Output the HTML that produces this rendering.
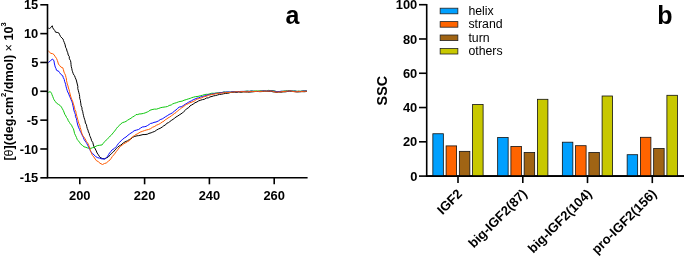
<!DOCTYPE html>
<html><head><meta charset="utf-8"><title>chart</title>
<style>
html,body{margin:0;padding:0;background:#fff;}
svg{display:block;will-change:transform;}
text{font-family:"Liberation Sans",sans-serif;fill:#000;}
.t{font-size:12.9px;font-weight:bold;}
.big{font-size:25px;font-weight:bold;}
.yl{font-size:12.6px;font-weight:bold;}
.ssc{font-size:14.3px;font-weight:bold;}
.lg{font-size:12.3px;}
</style></head>
<body>
<svg width="685" height="256" viewBox="0 0 685 256">
<rect width="685" height="256" fill="#fff"/>
<polyline points="48.30,28.10 49.50,28.50 50.80,27.60 52.25,25.75 52.66,27.58 53.50,29.00 54.71,30.48 55.60,32.25 57.20,32.40 58.75,32.90 59.67,34.72 60.60,36.60 61.94,38.02 63.10,39.10 63.46,40.52 64.30,42.50 65.15,44.83 65.60,47.25 66.47,48.78 67.00,51.05 67.75,52.75 68.22,55.02 69.25,56.47 69.36,58.77 70.53,60.68 70.90,62.75 71.03,64.58 71.22,66.33 71.76,68.37 72.10,70.25 72.57,71.76 73.20,73.56 74.00,75.25 74.60,75.75 75.19,77.55 76.24,79.95 76.75,82.00 77.25,84.00 77.87,86.59 77.76,88.46 78.40,90.75 78.89,92.76 79.38,94.46 79.67,96.49 79.71,98.32 80.42,100.35 80.55,102.07 80.90,103.90 81.06,105.69 81.96,107.73 82.03,109.76 82.79,111.78 83.04,113.58 83.56,115.72 84.00,117.50 84.56,119.24 85.09,120.82 85.38,123.02 86.49,124.76 86.69,126.30 87.30,128.59 88.01,130.12 88.40,131.90 89.23,133.36 89.64,135.40 90.25,136.75 91.05,138.73 91.61,140.78 92.77,142.45 93.42,144.94 94.00,146.75 95.27,148.98 96.25,150.93 97.10,153.00 98.39,154.83 99.60,156.75 100.91,157.90 102.75,158.60 104.50,158.90 106.17,157.97 107.75,157.40 109.00,156.14 110.25,154.90 111.41,153.54 112.77,152.44 114.00,151.10 115.32,149.82 116.22,148.44 117.56,147.40 119.00,146.10 120.68,145.16 122.11,144.06 123.40,142.75 126.00,141.40 127.52,140.77 129.44,139.48 131.00,138.90 132.59,137.36 134.75,136.40 136.99,135.82 138.68,135.61 141.00,135.10 142.99,134.56 144.96,134.55 147.25,134.25 148.93,133.40 151.13,132.80 152.77,132.10 154.75,131.40 156.34,130.23 158.45,129.01 160.14,128.34 162.25,127.00 163.82,125.73 165.44,124.99 166.65,123.41 168.50,122.60 169.79,121.61 171.30,120.48 173.11,119.27 174.33,118.41 176.00,117.00 177.85,115.98 179.17,115.02 181.00,113.90 182.19,113.00 183.50,112.00 185.02,110.55 186.49,108.83 188.66,107.65 190.00,105.90 191.55,105.07 193.22,104.06 195.00,102.75 197.02,101.91 198.60,100.88 200.85,100.11 202.50,99.60 204.57,99.20 206.29,98.05 208.35,97.86 210.00,96.90 212.00,96.43 213.68,95.86 215.45,95.58 217.50,95.00 219.48,94.42 221.31,94.30 223.45,93.80 225.60,93.40 227.72,93.34 230.29,92.54 232.10,92.43 234.50,92.25 236.89,92.36 238.60,91.96 240.90,92.27 243.16,91.92 245.00,91.95 247.29,92.01 249.12,92.14 251.03,91.94 253.25,91.75 255.19,91.50 257.87,91.48 259.97,91.66 262.00,91.55 264.39,91.40 266.28,91.27 268.78,91.39 270.75,91.25 273.11,91.85 274.70,92.01 277.00,92.35 278.76,91.91 280.74,92.24 283.00,91.85 285.34,91.85 287.24,91.52 289.50,91.25 291.54,91.35 293.29,91.43 294.87,91.64 297.00,91.95 298.90,91.89 300.59,91.72 302.00,91.65 304.32,91.72 306.90,91.45" fill="none" stroke="#000" stroke-width="1"/>
<polyline points="48.30,92.40 50.25,91.60 51.50,93.25 51.97,94.68 52.70,96.38 53.40,98.25 54.06,99.77 55.25,101.40 56.50,103.10 58.63,104.53 60.25,105.60 61.46,107.10 62.37,108.80 63.40,110.60 63.98,112.09 64.78,114.31 65.92,115.96 66.50,117.50 67.62,118.88 68.26,120.70 69.45,122.40 70.25,123.75 71.53,125.17 72.41,127.19 73.40,128.75 74.00,130.98 74.60,133.60 75.42,135.24 76.53,137.59 77.10,139.25 78.18,140.58 79.45,142.19 80.25,143.60 82.35,145.38 84.00,146.75 85.88,147.32 87.75,148.00 89.38,148.16 90.90,148.40 92.25,147.78 94.00,147.40 96.06,146.18 97.75,145.50 99.65,145.28 102.10,144.90 103.22,143.35 104.60,141.75 106.16,140.08 107.75,138.60 109.30,137.18 110.20,135.95 111.50,134.90 113.13,132.87 114.60,131.10 115.56,129.85 116.59,128.34 117.75,126.90 119.66,125.19 120.82,123.80 122.75,122.50 124.53,122.02 126.00,121.40 127.51,120.25 129.14,119.28 131.00,118.25 132.39,117.12 134.57,116.02 136.00,114.50 137.81,114.58 139.04,113.97 141.00,113.90 143.36,113.43 145.11,112.90 147.25,112.00 148.70,111.32 150.00,110.25 152.06,109.60 154.34,109.11 156.49,109.14 158.75,108.40 160.84,107.63 162.85,107.25 165.48,106.89 167.50,106.50 169.12,105.51 171.29,104.95 172.57,103.99 174.23,103.30 176.25,102.75 178.36,101.91 179.97,101.48 182.10,101.16 184.02,100.25 186.25,99.60 188.29,98.92 190.29,98.34 191.72,97.67 193.75,97.10 195.66,96.59 197.97,96.41 200.51,95.71 202.50,95.25 204.09,94.73 206.10,94.32 207.96,94.35 210.00,93.75 211.79,93.23 214.26,93.29 216.29,92.94 218.24,92.84 220.00,92.50 222.04,92.51 223.73,91.99 225.60,92.10 227.65,92.20 230.29,92.10 232.18,91.82 234.50,91.60 236.78,91.63 238.89,91.50 240.89,91.53 242.76,91.61 245.00,91.30 247.34,90.99 249.41,91.48 251.29,90.88 253.25,91.10 255.68,90.83 257.91,91.10 259.55,90.75 262.00,90.90 264.27,90.87 266.52,91.01 268.39,90.38 270.75,90.60 273.09,90.67 275.14,91.10 277.00,91.70 279.19,91.70 281.23,91.40 283.00,91.20 285.39,90.82 287.44,90.70 289.50,90.60 291.61,90.94 293.23,90.97 294.84,90.85 297.00,91.30 298.72,91.19 300.55,91.16 302.00,91.00 304.23,90.82 306.90,90.80" fill="none" stroke="#10c810" stroke-width="1"/>
<polyline points="48.30,62.75 50.25,60.90 52.50,59.00 54.00,60.90 54.26,62.99 54.76,65.10 55.25,67.10 55.95,68.41 56.50,70.25 59.00,71.50 59.60,72.60 60.88,74.38 62.75,75.75 63.22,77.47 64.28,79.50 64.60,81.40 65.28,83.10 65.63,84.62 66.11,86.76 66.50,88.25 67.14,90.27 67.75,92.00 68.78,93.94 69.60,96.40 70.47,98.07 70.91,99.35 71.75,101.25 72.44,103.11 72.83,105.23 73.30,107.13 73.59,108.93 74.09,110.89 74.60,112.50 75.35,114.34 75.43,116.50 76.45,118.71 76.78,120.71 77.23,122.85 77.75,125.00 78.49,127.13 79.47,129.41 80.25,131.25 80.90,132.40 81.78,134.37 82.66,136.12 83.33,137.34 84.00,139.25 85.15,141.09 86.12,142.42 86.94,143.76 87.75,145.50 89.00,147.63 89.72,149.40 90.90,151.75 92.66,153.62 94.00,154.90 95.63,156.51 97.75,157.75 99.57,158.07 101.50,158.80 103.25,158.96 105.25,158.80 106.72,157.18 107.75,156.10 108.74,154.28 109.60,153.00 110.98,151.35 112.10,149.90 114.23,148.61 115.90,146.75 117.14,145.60 118.25,143.60 119.60,142.40 121.23,140.54 122.75,139.25 124.19,138.07 126.00,137.00 127.94,135.24 129.75,133.90 130.93,133.07 132.54,132.08 134.10,130.75 136.54,130.05 138.50,129.50 140.35,128.26 142.25,127.00 144.21,126.76 146.00,126.40 147.50,125.51 149.20,124.47 150.40,123.50 152.23,123.13 153.98,122.38 156.00,122.00 158.37,120.98 160.20,119.64 162.25,118.90 163.87,117.90 165.30,116.87 167.25,115.75 169.08,114.49 170.83,113.73 172.50,112.75 174.27,111.21 175.96,109.99 177.50,108.40 179.30,107.09 181.77,106.58 183.75,105.25 185.16,104.29 186.93,103.27 188.36,102.33 190.00,101.50 191.59,100.72 193.21,99.76 195.00,99.00 197.04,98.09 198.79,97.89 200.51,96.96 202.50,96.50 204.43,95.89 205.81,95.56 207.87,94.91 209.39,94.60 211.25,94.25 213.64,93.84 215.84,93.30 217.71,93.22 220.00,92.75 222.10,92.54 223.57,92.16 225.60,92.20 227.84,91.90 230.23,92.18 232.09,91.73 234.50,91.75 236.78,91.78 238.88,91.54 240.58,91.45 243.08,91.37 245.00,91.45 246.97,91.35 249.08,91.30 251.44,91.09 253.25,91.25 255.14,91.47 257.85,91.44 259.77,91.37 262.00,91.05 264.44,90.81 266.52,91.10 268.66,90.84 270.75,90.75 272.71,91.02 274.75,91.22 277.00,91.85 279.05,91.56 281.19,91.24 283.00,91.35 285.41,91.27 287.59,91.19 289.50,90.75 291.61,90.97 292.96,91.25 294.93,91.15 297.00,91.45 298.76,91.36 300.28,91.51 302.00,91.15 304.52,90.95 306.90,90.95" fill="none" stroke="#0a0aff" stroke-width="1"/>
<polyline points="48.30,50.90 49.87,52.42 50.90,53.40 52.40,53.60 54.00,54.60 54.98,56.25 56.50,58.40 57.33,60.41 57.87,62.02 58.40,64.00 59.71,65.61 60.90,67.10 62.75,67.75 63.42,69.72 64.00,72.10 64.71,73.61 65.50,75.25 65.97,77.38 66.44,78.94 66.50,80.75 66.97,82.36 67.22,83.97 67.98,85.89 68.43,87.99 69.00,89.50 69.49,91.41 69.79,92.96 70.32,94.91 70.90,97.00 71.53,99.02 72.25,100.26 73.01,102.35 73.40,103.90 74.06,105.99 74.59,107.77 74.86,109.74 75.74,111.10 76.14,113.28 76.50,115.00 77.07,117.05 77.68,119.32 78.28,121.29 78.79,123.35 79.71,125.13 80.10,127.44 80.79,129.21 81.25,131.25 81.83,133.27 82.75,135.50 83.81,136.86 84.87,138.49 85.81,140.07 86.50,141.75 87.72,143.12 88.40,144.25 89.03,146.14 89.74,148.05 90.16,149.70 90.90,151.75 91.71,153.89 92.50,155.50 93.82,156.91 95.19,158.97 96.25,160.50 98.37,161.69 100.00,163.25 102.50,164.50 104.52,163.49 106.25,163.00 108.22,161.31 110.00,159.90 111.09,158.46 112.26,156.58 113.75,154.90 115.27,153.02 116.20,151.68 117.64,149.86 119.00,148.00 120.39,146.45 122.14,145.17 124.00,143.60 125.62,142.84 127.45,141.67 129.60,140.50 131.00,138.25 132.38,136.85 134.52,135.54 136.00,134.50 137.89,133.58 140.10,132.16 142.25,131.40 144.63,130.56 146.14,130.04 148.50,129.50 150.65,128.61 152.43,127.34 154.75,126.40 156.34,125.27 158.66,124.34 160.62,123.25 162.25,122.00 163.97,121.12 165.23,119.84 166.85,118.89 168.01,117.97 169.75,117.00 171.54,115.68 172.93,114.74 174.45,113.49 176.00,112.60 177.50,110.90 179.34,109.66 180.69,108.65 181.90,107.63 183.75,106.50 185.10,105.30 186.60,104.42 188.20,103.77 190.00,102.75 192.09,101.99 194.43,100.95 196.25,99.60 197.84,98.95 199.60,98.41 201.57,97.92 203.38,96.97 205.00,96.50 206.95,96.02 208.70,95.22 210.95,94.77 213.13,94.34 215.00,94.00 216.88,93.51 219.08,93.23 221.37,93.08 223.37,92.89 225.60,92.50 227.65,92.62 230.33,92.39 232.24,92.13 234.50,92.00 236.65,91.67 238.65,91.90 240.61,91.58 243.08,91.68 245.00,91.70 247.07,91.90 249.19,91.47 251.48,91.47 253.25,91.50 255.15,91.56 257.39,91.28 260.02,91.45 262.00,91.30 263.90,91.20 266.32,91.14 268.39,91.13 270.75,91.00 272.58,91.24 274.84,91.99 277.00,92.10 278.75,92.09 280.82,91.81 283.00,91.60 285.10,91.38 287.49,91.14 289.50,91.00 291.15,90.95 293.00,91.56 295.21,91.80 297.00,91.70 298.78,91.31 300.43,91.67 302.00,91.40 304.58,91.30 306.90,91.20" fill="none" stroke="#ff5a00" stroke-width="1"/>
<path d="M47.5 3.9800000000000013 V177.8 H307.6" fill="none" stroke="#000" stroke-width="1.6" stroke-linejoin="miter"/>
<line x1="40.3" x2="47.5" y1="4.78" y2="4.78" stroke="#000" stroke-width="1.6"/>
<text x="38.3" y="9.33" text-anchor="end" class="t">15</text>
<line x1="40.3" x2="47.5" y1="33.62" y2="33.62" stroke="#000" stroke-width="1.6"/>
<text x="38.3" y="38.17" text-anchor="end" class="t">10</text>
<line x1="40.3" x2="47.5" y1="62.46" y2="62.46" stroke="#000" stroke-width="1.6"/>
<text x="38.3" y="67.01" text-anchor="end" class="t">5</text>
<line x1="40.3" x2="47.5" y1="91.30" y2="91.30" stroke="#000" stroke-width="1.6"/>
<text x="38.3" y="95.85" text-anchor="end" class="t">0</text>
<line x1="40.3" x2="47.5" y1="120.14" y2="120.14" stroke="#000" stroke-width="1.6"/>
<text x="38.3" y="124.69" text-anchor="end" class="t">-5</text>
<line x1="40.3" x2="47.5" y1="148.98" y2="148.98" stroke="#000" stroke-width="1.6"/>
<text x="38.3" y="153.53" text-anchor="end" class="t">-10</text>
<line x1="40.3" x2="47.5" y1="177.82" y2="177.82" stroke="#000" stroke-width="1.6"/>
<text x="38.3" y="182.37" text-anchor="end" class="t">-15</text>
<line x1="79.80" x2="79.80" y1="177.8" y2="184.3" stroke="#000" stroke-width="1.6"/>
<text x="79.80" y="200.3" text-anchor="middle" class="t">200</text>
<line x1="144.60" x2="144.60" y1="177.8" y2="184.3" stroke="#000" stroke-width="1.6"/>
<text x="144.60" y="200.3" text-anchor="middle" class="t">220</text>
<line x1="209.40" x2="209.40" y1="177.8" y2="184.3" stroke="#000" stroke-width="1.6"/>
<text x="209.40" y="200.3" text-anchor="middle" class="t">240</text>
<line x1="274.20" x2="274.20" y1="177.8" y2="184.3" stroke="#000" stroke-width="1.6"/>
<text x="274.20" y="200.3" text-anchor="middle" class="t">260</text>
<text x="285.6" y="24.2" class="big">a</text>
<text x="657.2" y="24.2" class="big">b</text>
<text transform="translate(12.9,160.6) rotate(-90)" class="yl">[<tspan font-weight="normal">θ</tspan>](deg.cm<tspan dy="-6.5" font-size="7.6">2</tspan><tspan dy="6.5">/dmol) </tspan><tspan font-weight="normal">×</tspan> 10<tspan dy="-6.5" font-size="7.6">3</tspan></text>
<path d="M426.7 3.899999999999989 V176.1 H684" fill="none" stroke="#000" stroke-width="1.6"/>
<line x1="419" x2="426.7" y1="176.10" y2="176.10" stroke="#000" stroke-width="1.6"/>
<text x="417.3" y="180.65" text-anchor="end" class="t">0</text>
<line x1="419" x2="426.7" y1="141.82" y2="141.82" stroke="#000" stroke-width="1.6"/>
<text x="417.3" y="146.37" text-anchor="end" class="t">20</text>
<line x1="419" x2="426.7" y1="107.54" y2="107.54" stroke="#000" stroke-width="1.6"/>
<text x="417.3" y="112.09" text-anchor="end" class="t">40</text>
<line x1="419" x2="426.7" y1="73.26" y2="73.26" stroke="#000" stroke-width="1.6"/>
<text x="417.3" y="77.81" text-anchor="end" class="t">60</text>
<line x1="419" x2="426.7" y1="38.98" y2="38.98" stroke="#000" stroke-width="1.6"/>
<text x="417.3" y="43.53" text-anchor="end" class="t">80</text>
<line x1="419" x2="426.7" y1="4.70" y2="4.70" stroke="#000" stroke-width="1.6"/>
<text x="417.3" y="9.25" text-anchor="end" class="t">100</text>
<text transform="translate(387.3,90.7) rotate(-90) scale(1,1.08)" text-anchor="middle" class="ssc">SSC</text>
<rect x="432.85" y="133.75" width="10.5" height="42.35" fill="#00a0ff" stroke="#111" stroke-width="0.8"/>
<rect x="446.10" y="145.90" width="10.5" height="30.20" fill="#ff6400" stroke="#111" stroke-width="0.8"/>
<rect x="459.35" y="151.35" width="10.5" height="24.75" fill="#a06414" stroke="#111" stroke-width="0.8"/>
<rect x="472.60" y="104.54" width="10.5" height="71.56" fill="#c8c800" stroke="#111" stroke-width="0.8"/>
<line x1="458.00" x2="458.00" y1="176.1" y2="183.1" stroke="#000" stroke-width="1.6"/>
<text transform="translate(463.00,194.6) rotate(-45)" text-anchor="end" class="t" style="font-size:13.1px">IGF2</text>
<rect x="497.65" y="137.50" width="10.5" height="38.60" fill="#00a0ff" stroke="#111" stroke-width="0.8"/>
<rect x="510.90" y="146.50" width="10.5" height="29.60" fill="#ff6400" stroke="#111" stroke-width="0.8"/>
<rect x="524.15" y="152.50" width="10.5" height="23.60" fill="#a06414" stroke="#111" stroke-width="0.8"/>
<rect x="537.40" y="99.30" width="10.5" height="76.80" fill="#c8c800" stroke="#111" stroke-width="0.8"/>
<line x1="522.80" x2="522.80" y1="176.1" y2="183.1" stroke="#000" stroke-width="1.6"/>
<text transform="translate(527.80,194.6) rotate(-45)" text-anchor="end" class="t" style="font-size:13.1px">big-IGF2(87)</text>
<rect x="562.35" y="142.20" width="10.5" height="33.90" fill="#00a0ff" stroke="#111" stroke-width="0.8"/>
<rect x="575.60" y="145.70" width="10.5" height="30.40" fill="#ff6400" stroke="#111" stroke-width="0.8"/>
<rect x="588.85" y="152.50" width="10.5" height="23.60" fill="#a06414" stroke="#111" stroke-width="0.8"/>
<rect x="602.10" y="96.00" width="10.5" height="80.10" fill="#c8c800" stroke="#111" stroke-width="0.8"/>
<line x1="587.50" x2="587.50" y1="176.1" y2="183.1" stroke="#000" stroke-width="1.6"/>
<text transform="translate(592.50,194.6) rotate(-45)" text-anchor="end" class="t" style="font-size:13.1px">big-IGF2(104)</text>
<rect x="627.15" y="154.70" width="10.5" height="21.40" fill="#00a0ff" stroke="#111" stroke-width="0.8"/>
<rect x="640.40" y="137.30" width="10.5" height="38.80" fill="#ff6400" stroke="#111" stroke-width="0.8"/>
<rect x="653.65" y="148.50" width="10.5" height="27.60" fill="#a06414" stroke="#111" stroke-width="0.8"/>
<rect x="666.90" y="95.30" width="10.5" height="80.80" fill="#c8c800" stroke="#111" stroke-width="0.8"/>
<line x1="652.30" x2="652.30" y1="176.1" y2="183.1" stroke="#000" stroke-width="1.6"/>
<text transform="translate(657.30,194.6) rotate(-45)" text-anchor="end" class="t" style="font-size:13.1px">pro-IGF2(156)</text>
<line x1="425.9" x2="684" y1="176.1" y2="176.1" stroke="#000" stroke-width="1.6"/>
<rect x="440.15" y="8.20" width="17.7" height="5.6" fill="#00a0ff" stroke="#222" stroke-width="0.8"/>
<text x="468.4" y="15.00" class="lg">helix</text>
<rect x="440.15" y="21.60" width="17.7" height="5.6" fill="#ff6400" stroke="#222" stroke-width="0.8"/>
<text x="468.4" y="28.40" class="lg">strand</text>
<rect x="440.15" y="35.00" width="17.7" height="5.6" fill="#a06414" stroke="#222" stroke-width="0.8"/>
<text x="468.4" y="41.80" class="lg">turn</text>
<rect x="440.15" y="48.40" width="17.7" height="5.6" fill="#c8c800" stroke="#222" stroke-width="0.8"/>
<text x="468.4" y="55.20" class="lg">others</text>
</svg>
</body></html>
